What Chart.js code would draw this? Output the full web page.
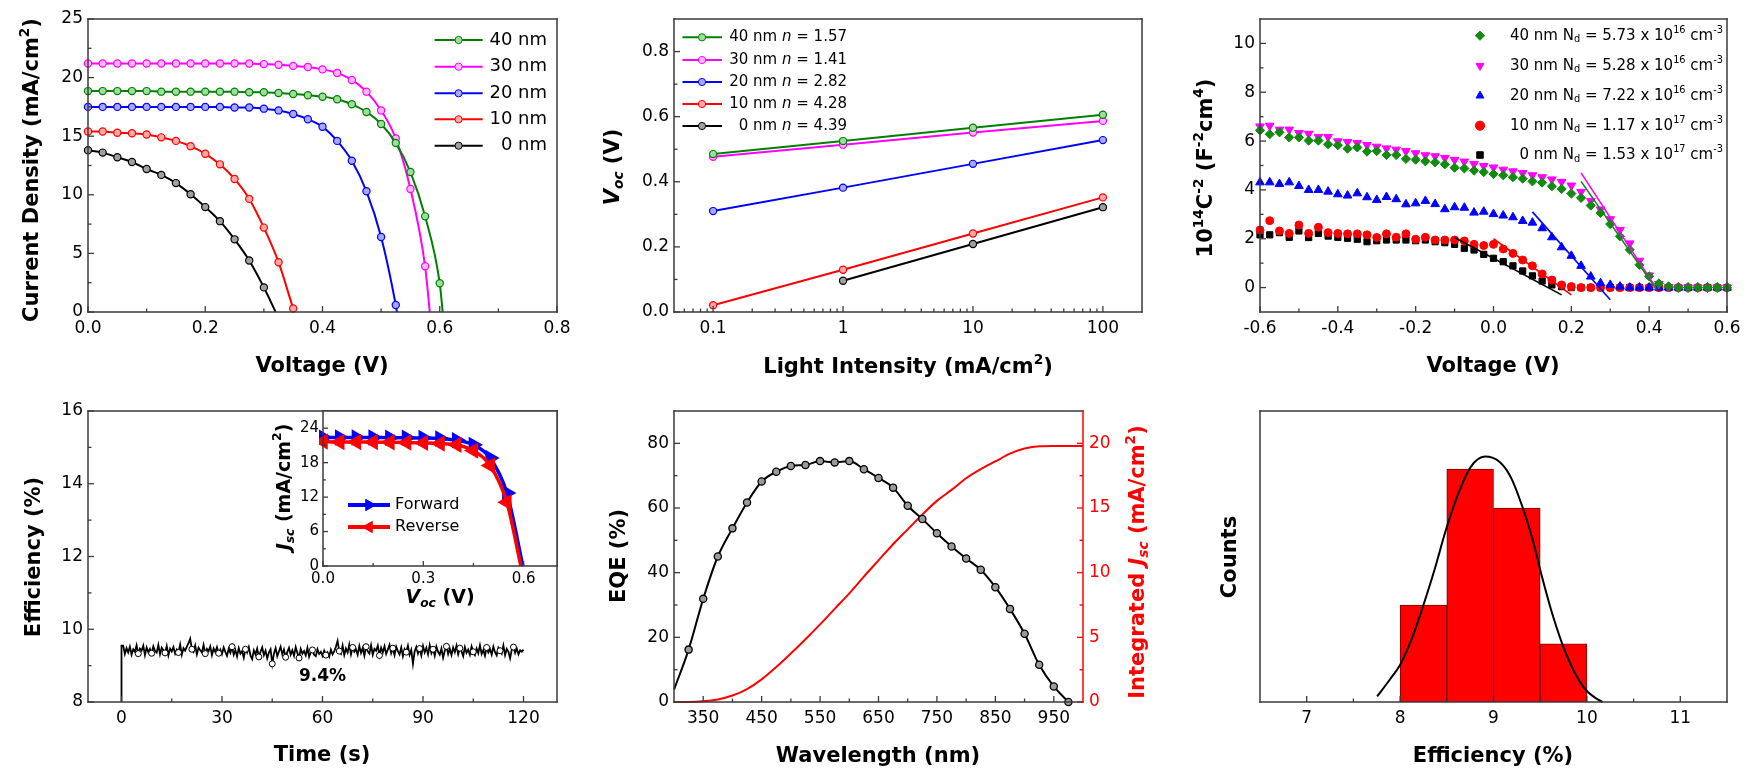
<!DOCTYPE html>
<html><head><meta charset="utf-8">
<script src="https://cdn.jsdelivr.net/npm/chart.js@4/dist/chart.umd.min.js"></script>
<style>
html,body{margin:0;padding:0;background:#fff;}
#wrap{position:relative;width:1757px;height:781px;overflow:hidden;background:#fff;}
canvas{position:absolute;left:0;top:0;}
</style></head>
<body><div id="wrap"></div>
<script>
// ================= DATA =================
// Panel 1: J-V curves
const jvV = [0,0.025,0.05,0.075,0.1,0.125,0.15,0.175,0.2,0.225,0.25,0.275,0.3,0.325,0.35,0.375,0.4,0.425,0.45,0.475,0.5,0.525,0.55,0.575,0.6];
const j40 = [18.85,18.85,18.85,18.85,18.85,18.8,18.8,18.8,18.8,18.8,18.8,18.75,18.75,18.68,18.6,18.5,18.37,18.15,17.72,17.07,16.04,14.42,11.94,8.16,2.45];
const j30 = [21.2,21.2,21.2,21.2,21.2,21.2,21.2,21.2,21.2,21.2,21.2,21.2,21.15,21.1,21.0,20.9,20.7,20.4,19.8,18.8,17.2,14.8,10.5,3.9];
const j20 = [17.5,17.5,17.5,17.5,17.5,17.5,17.5,17.5,17.5,17.5,17.45,17.45,17.35,17.2,16.9,16.45,15.8,14.6,12.9,10.3,6.4,0.6];
const j10 = [15.4,15.4,15.3,15.25,15.15,14.9,14.6,14.15,13.5,12.6,11.35,9.65,7.2,4.25,0.3];
const j0  = [13.8,13.6,13.2,12.8,12.2,11.7,11.0,10.05,8.95,7.75,6.2,4.4,2.1];
const jvVoc = [0.605, 0.583, 0.527, 0.352, 0.32];
const thickLabels = ['40 nm','30 nm','20 nm','10 nm','0 nm'];
const p1XTicks = [0,0.2,0.4,0.6,0.8], p1XLabels = ['0.0','0.2','0.4','0.6','0.8'];
const p1YTicks = [0,5,10,15,20,25], p1YLabels = ['0','5','10','15','20','25'];

// Panel 2: Voc vs light intensity
const intensity = [0.1, 1, 10, 100];
const voc40 = [0.485,0.525,0.566,0.606];
const voc30 = [0.477,0.514,0.551,0.587];
const voc20 = [0.31,0.382,0.455,0.528];
const voc10 = [0.021,0.13,0.241,0.352];
const voc0  = [null,0.096,0.209,0.322];
const idealityLabels = ['40 nm ~n~ = 1.57','30 nm ~n~ = 1.41','20 nm ~n~ = 2.82','10 nm ~n~ = 4.28','0 nm ~n~ = 4.39'];
const p2XTicks = [0.1,1,10,100], p2XLabels = ['0.1','1','10','100'];
const p2YTicks = [0,0.2,0.4,0.6,0.8], p2YLabels = ['0.0','0.2','0.4','0.6','0.8'];

// Panel 3: Mott-Schottky
const msV = []; for (let i = 0; i < 49; i++) msV.push(+(-0.6 + i * 0.025).toFixed(3));
const ms40 = [6.44,6.28,6.36,6.15,6.15,6.02,6.02,5.87,5.83,5.69,5.74,5.57,5.59,5.43,5.43,5.27,5.24,5.17,5.13,5.05,4.91,4.88,4.79,4.73,4.65,4.6,4.52,4.46,4.35,4.3,4.15,4.04,3.85,3.67,3.36,3.06,2.6,2.1,1.55,0.93,0.46,0.17,0.05,0,0,0,0,0,0];
const ms30 = [6.6,6.63,6.47,6.47,6.33,6.3,6.17,6.17,5.99,5.96,5.92,5.84,5.77,5.7,5.65,5.59,5.5,5.42,5.38,5.31,5.23,5.16,5.06,4.98,4.92,4.83,4.76,4.69,4.6,4.52,4.43,4.33,4.18,3.92,3.55,3.2,2.8,2.36,1.81,1.1,0.5,0.15,0.03,0,0,0,0,0,0];
const ms20 = [4.31,4.31,4.24,4.31,4.16,4.0,4.0,3.93,3.82,3.77,3.86,3.7,3.59,3.71,3.62,3.41,3.45,3.55,3.42,3.21,3.29,3.27,3.07,3.11,3.01,2.95,2.88,2.73,2.66,2.43,2.06,1.65,1.3,0.89,0.45,0.18,0.11,0.04,0,0,0,0,0,0,0,0,0,0,0];
const ms10 = [2.36,2.74,2.32,2.22,2.56,2.22,2.47,2.25,2.22,2.2,2.2,2.16,2.05,2.2,2.06,2.2,1.98,2.06,1.95,1.95,1.95,1.91,1.77,1.72,1.77,1.58,1.4,1.13,0.89,0.56,0.31,0.11,0.04,0,0,0,0,0,0,0,0,0,0,0,0,0,0,0,0];
const ms0  = [2.16,2.16,2.25,2.06,2.32,2.05,2.22,2.11,2.06,2.02,1.98,1.88,1.92,1.95,1.95,1.95,1.92,1.95,1.88,1.84,1.77,1.61,1.54,1.36,1.2,1.06,0.89,0.68,0.48,0.27,0.11,0.04,0,0,0,0,0,0,0,0,0,0,0,0,0,0,0,0,0];
const fit40 = [[0.225,4.35],[0.419,-0.08]];
const fit30 = [[0.225,4.7],[0.414,0.08]];
const fit20 = [[0.1,3.1],[0.3,-0.5]];
const fit10 = [[0.0,2.0],[0.2,-0.3]];
const fit0  = [[-0.1,2.05],[0.175,-0.3]];
const dopingLabels = ['40 nm N_{d} = 5.73 x 10^{16} cm^{-3}','30 nm N_{d} = 5.28 x 10^{16} cm^{-3}','20 nm N_{d} = 7.22 x 10^{16} cm^{-3}','10 nm N_{d} = 1.17 x 10^{17} cm^{-3}','0 nm N_{d} = 1.53 x 10^{17} cm^{-3}'];
const p3XTicks = [-0.6,-0.4,-0.2,0,0.2,0.4,0.6], p3XLabels = ['-0.6','-0.4','-0.2','0.0','0.2','0.4','0.6'];
const p3YTicks = [0,2,4,6,8,10], p3YLabels = ['0','2','4','6','8','10'];

// Panel 4: stabilised efficiency (t = 0.5 s steps after the start)
const effStart = [8.0, 9.55];
const effValues = [
9.55,9.32,9.48,9.36,9.52,9.30,9.45,9.38,9.56,9.33,9.47,9.41,9.55,9.29,9.50,9.37,9.46,9.34,9.53,9.40,
9.36,9.57,9.31,9.49,9.42,9.35,9.54,9.28,9.47,9.39,9.51,9.33,9.44,9.36,9.58,9.30,9.48,9.41,9.52,9.62,
9.74,9.45,9.38,9.55,9.31,9.49,9.42,9.36,9.57,9.33,9.46,9.40,9.53,9.29,9.47,9.37,9.51,9.34,9.44,9.32,
9.50,9.38,9.27,9.46,9.35,9.52,9.30,9.43,9.25,9.48,9.33,9.40,9.22,9.45,9.36,9.51,9.28,9.18,9.42,9.31,
9.47,9.24,9.38,9.50,9.29,9.41,9.20,9.36,9.45,9.05,9.33,9.48,9.26,9.39,9.52,9.31,9.44,9.23,9.37,9.49,
9.30,9.42,9.27,9.51,9.35,9.21,9.46,9.33,9.40,9.28,9.49,9.24,9.37,9.43,9.30,9.26,9.45,9.32,9.38,9.27,
9.41,9.29,9.36,9.25,9.44,9.31,9.39,9.52,9.68,9.40,9.33,9.55,9.29,9.47,9.36,9.58,9.31,9.50,9.38,9.45,
9.30,9.54,9.35,9.48,9.27,9.52,9.39,9.33,9.56,9.30,9.46,9.41,9.55,9.28,9.49,9.36,9.53,9.32,9.44,9.57,
9.34,9.48,9.29,9.52,9.40,9.31,9.50,9.26,9.45,9.37,9.55,9.30,9.43,9.05,9.39,9.51,9.33,9.47,9.28,9.54,
9.36,9.49,9.31,9.56,9.34,9.45,9.27,9.52,9.38,9.30,9.47,9.22,9.41,9.53,9.32,9.46,9.29,9.50,9.37,9.55,
9.31,9.48,9.39,9.26,9.51,9.35,9.44,9.30,9.53,9.38,9.29,9.47,9.34,9.56,9.32,9.43,9.27,9.50,9.36,9.45,
9.30,9.52,9.37,9.28,9.49,9.41,9.33,9.55,9.29,9.46,9.38,9.20,9.44,9.51,9.35,9.47,9.31,9.42,9.38,9.44];
const effNote = {text: '9.4%', t: 60, v: 8.7};
const p4XTicks = [0,30,60,90,120], p4XLabels = ['0','30','60','90','120'];
const p4YTicks = [8,10,12,14,16], p4YLabels = ['8','10','12','14','16'];
// Inset
const insetV = [0,0.05,0.1,0.15,0.2,0.25,0.3,0.35,0.4,0.45,0.5,0.55];
const jForward = [22.4,22.4,22.4,22.4,22.35,22.35,22.3,22.2,21.9,21.1,18.8,12.7];
const jReverse = [21.7,21.6,21.6,21.6,21.55,21.5,21.45,21.35,21.1,20.1,17.5,11.1];
const vocForward = 0.598, vocReverse = 0.592;
const scanLabels = ['Forward','Reverse'];
const inXTicks = [0,0.3,0.6], inXLabels = ['0.0','0.3','0.6'];
const inYTicks = [0,6,12,18,24], inYLabels = ['0','6','12','18','24'];

// Panel 5: EQE and integrated Jsc
const eqeNm = [300,325,350,375,400,425,450,475,500,525,550,575,600,625,650,675,700,725,750,775,800,825,850,875,900,925,950,975];
const eqe = [3.8,16.2,31.9,45.0,53.7,61.7,68.2,71.2,73.0,73.3,74.5,74.1,74.5,72.0,69.3,66.3,60.7,56.6,52.2,48.1,44.4,40.9,35.5,28.8,21.1,11.5,4.8,0.0];
const jscNm = [300,325,350,375,400,425,450,475,500,525,550,575,600,625,650,675,700,725,750,775,800,825,850,875,900,925,950,975,1000];
const jscInt = [0,0,0.05,0.2,0.5,1.0,1.75,2.7,3.75,4.85,6.0,7.2,8.4,9.7,10.95,12.2,13.35,14.5,15.55,16.4,17.3,18.0,18.6,19.2,19.6,19.78,19.8,19.8,19.8];
const p5XTicks = [350,450,550,650,750,850,950], p5XLabels = ['350','450','550','650','750','850','950'];
const p5YTicks = [0,20,40,60,80], p5YLabels = ['0','20','40','60','80'];
const p5Y2Ticks = [0,5,10,15,20], p5Y2Labels = ['0','5','10','15','20'];

// Panel 6: efficiency histogram + fit
const binCenters = [8.25, 8.75, 9.25, 9.75];
const binCounts = [5, 12, 10, 3];
const fitEffX = [7.754,7.891,8.001,8.127,8.244,8.362,8.5,8.637,8.755,8.908,9.069,9.186,9.324,9.422,9.52,9.618,9.736,9.854,9.972,10.09,10.168];
const fitEffY = [0.29,1.16,1.92,3.29,4.91,6.71,9.02,10.91,12.11,12.65,12.36,11.58,9.86,8.32,6.44,4.73,3.0,1.66,0.72,0.21,0.0];
const p6XTicks = [7,8,9,10,11], p6XLabels = ['7','8','9','10','11'];

// ================= STYLE HELPERS =================
const FONT = 'DejaVu Sans';
const FR = '#3a3a3a';
Chart.defaults.font.family = FONT;
Chart.defaults.color = '#000';
const COLORS = ['#008000', '#ff00ff', '#0000ff', '#ff0000', '#000000'];
const FILLS = ['#9fdc9f', '#ffb8ff', '#a8a8ff', '#ffa8a8', '#a0a0a0'];
const wrap = document.getElementById('wrap');
function mk() {
  const c = document.createElement('canvas');
  c.width = 1757; c.height = 781;
  c.style.width = '1757px'; c.style.height = '781px';
  wrap.appendChild(c);
  return c.getContext('2d');
}
function parseRich(str) {
  const segs = []; let i = 0, ital = false, buf = '';
  const push = (t, s) => { if (t) segs.push({t, s, i: ital}); };
  while (i < str.length) {
    const c = str[i];
    if (c === '~') { push(buf); buf = ''; ital = !ital; i++; }
    else if ((c === '^' || c === '_') && str[i + 1] === '{') {
      push(buf); buf = '';
      const j = str.indexOf('}', i);
      push(str.slice(i + 2, j), c === '^' ? 'sup' : 'sub');
      i = j + 1;
    } else { buf += c; i++; }
  }
  push(buf);
  return segs;
}
function drawRich(ctx, str, x, y, o) {
  const size = o.size || 21;
  const segs = parseRich(str);
  ctx.save();
  ctx.translate(x, y);
  if (o.rot) ctx.rotate(o.rot);
  ctx.textBaseline = 'middle';
  ctx.textAlign = 'left';
  ctx.fillStyle = o.color || '#000';
  const parts = segs.map(s => {
    const fs = s.s ? size * 0.65 : size;
    const font = (s.i ? 'italic ' : '') + (o.bold ? 'bold ' : '') + fs.toFixed(1) + 'px "' + FONT + '"';
    ctx.font = font;
    return {t: s.t, font, w: ctx.measureText(s.t).width, dy: s.s === 'sup' ? -size * 0.36 : s.s === 'sub' ? size * 0.28 : 0};
  });
  const total = parts.reduce((a, p) => a + p.w, 0);
  let cx = o.align === 'right' ? -total : o.align === 'left' ? 0 : -total / 2;
  parts.forEach(p => { ctx.font = p.font; ctx.fillText(p.t, cx, p.dy); cx += p.w; });
  ctx.restore();
}
function drawMarker(ctx, style, x, y, r, fill, stroke, rot) {
  ctx.save();
  ctx.translate(x, y);
  ctx.rotate((rot || 0) * Math.PI / 180);
  ctx.beginPath();
  if (style === 'circle') ctx.arc(0, 0, r, 0, Math.PI * 2);
  else if (style === 'triangle') { ctx.moveTo(0, -r); ctx.lineTo(r * 0.866, r * 0.5); ctx.lineTo(-r * 0.866, r * 0.5); ctx.closePath(); }
  else if (style === 'rect') { const h = r * 0.7071; ctx.rect(-h, -h, 2 * h, 2 * h); }
  else if (style === 'rectRot') { ctx.moveTo(0, -r); ctx.lineTo(r, 0); ctx.lineTo(0, r); ctx.lineTo(-r, 0); ctx.closePath(); }
  ctx.fillStyle = fill; ctx.fill();
  ctx.strokeStyle = stroke; ctx.lineWidth = 1; ctx.stroke();
  ctx.restore();
}
function makeDeco(cfg) {
  return {
    id: 'deco',
    beforeDatasetsDraw(chart) {
      if (!cfg.bg) return;
      const a = chart.chartArea, c = chart.ctx;
      c.save(); c.fillStyle = '#fff'; c.fillRect(a.left, a.top, a.right - a.left, a.bottom - a.top); c.restore();
    },
    afterDraw(chart) {
      const ctx = chart.ctx, a = chart.chartArea;
      ctx.save();
      ctx.lineCap = 'butt';
      (cfg.axes || []).forEach(ax => {
        const s = chart.scales[ax.id];
        ctx.strokeStyle = ax.color || FR; ctx.lineWidth = 1.3;
        const draw = (vals, len) => vals.forEach(v => {
          const p = s.getPixelForValue(v);
          ctx.beginPath();
          if (ax.side === 'bottom') { ctx.moveTo(p, a.bottom); ctx.lineTo(p, a.bottom - len); }
          else if (ax.side === 'left') { ctx.moveTo(a.left, p); ctx.lineTo(a.left + len, p); }
          else { ctx.moveTo(a.right, p); ctx.lineTo(a.right - len, p); }
          ctx.stroke();
        });
        draw(ax.major || [], ax.len || 6);
        draw(ax.minor || [], (ax.len || 6) * 0.58);
      });
      ctx.lineWidth = 1.5; ctx.lineCap = 'square';
      const ln = (x1, y1, x2, y2, col) => { ctx.strokeStyle = col; ctx.beginPath(); ctx.moveTo(x1, y1); ctx.lineTo(x2, y2); ctx.stroke(); };
      ln(a.left, a.top, a.right, a.top, FR);
      ln(a.left, a.bottom, a.right, a.bottom, FR);
      ln(a.left, a.top, a.left, a.bottom, FR);
      ln(a.right, a.top, a.right, a.bottom, cfg.rightColor || FR);
      ctx.lineCap = 'butt';
      (cfg.titles || []).forEach(t => drawRich(ctx, t.text, t.x, t.y, {size: t.size || 21, bold: true, color: t.color, rot: t.rot ? -Math.PI / 2 : 0}));
      if (cfg.legend) {
        const L = cfg.legend;
        L.items.forEach((it, k) => {
          const y = L.rows[k];
          if (L.line) {
            ctx.strokeStyle = it.color; ctx.lineWidth = L.lw || 2;
            ctx.beginPath(); ctx.moveTo(L.x1, y); ctx.lineTo(L.x2, y); ctx.stroke();
          }
          drawMarker(ctx, it.style, L.mx, y, L.r, it.fill, it.stroke || it.color, it.rot);
          drawRich(ctx, it.text, L.tx, y, {size: L.size, align: L.align, color: '#000'});
        });
      }
      (cfg.notes || []).forEach(n => {
        const x = chart.scales.x.getPixelForValue(n.t), y = chart.scales.y.getPixelForValue(n.v);
        drawRich(ctx, n.text, x, y, {size: n.size, bold: true});
      });
      ctx.restore();
    }
  };
}
function axis(o) {
  return {
    type: o.type || 'linear', min: o.min, max: o.max, position: o.pos, offset: false,
    grid: {display: false, drawTicks: false, offset: false},
    border: {display: false},
    afterBuildTicks: s => { s.ticks = o.tv.map(v => ({value: v})); },
    afterFit: s => { if (s.isHorizontal()) s.height = o.fit; else s.width = o.fit; },
    ticks: {display: o.show !== false, autoSkip: false, maxRotation: 0, minRotation: 0, padding: o.pad,
      color: o.color || '#000', font: {family: FONT, size: o.size || 17},
      callback: (v, i) => o.labels ? o.labels[i] : ''}
  };
}
function base(padding, scales) {
  return {
    responsive: false, animation: false, devicePixelRatio: 1, events: [],
    layout: {padding},
    scales,
    plugins: {legend: {display: false}, tooltip: {enabled: false}}
  };
}
const W = 1757, H = 781;
function pts(xs, ys) { const out = []; ys.forEach((y, i) => { if (y !== null) out.push({x: xs[i], y}); }); return out; }

// ================= PANEL 1 =================
(function () {
  const series = [j40, j30, j20, j10, j0];
  const ds = series.map((js, k) => ({
    data: pts(jvV, js).concat([{x: jvVoc[k], y: 0}]),
    showLine: true, borderColor: COLORS[k], borderWidth: 2,
    pointBackgroundColor: FILLS[k], pointBorderColor: COLORS[k], pointBorderWidth: 1.2,
    pointRadius: c => c.dataIndex === c.dataset.data.length - 1 ? 0 : 3.6,
    cubicInterpolationMode: 'monotone', clip: 6
  }));
  new Chart(mk(), {
    type: 'scatter', data: {datasets: ds},
    options: base({left: 88 - 56, top: 19, right: W - 557, bottom: H - 312 - 40}, {
      x: axis({min: 0, max: 0.8, tv: p1XTicks, labels: p1XLabels, pos: 'bottom', fit: 40, pad: 6}),
      y: axis({min: 0, max: 25, tv: p1YTicks, labels: p1YLabels, pos: 'left', fit: 56, pad: 5})
    }),
    plugins: [makeDeco({
      axes: [{id: 'x', side: 'bottom', major: p1XTicks, minor: [0.1, 0.3, 0.5, 0.7]},
             {id: 'y', side: 'left', major: p1YTicks, minor: [2.5, 7.5, 12.5, 17.5, 22.5]}],
      titles: [{text: 'Current Density (mA/cm^{2})', x: 33, y: 170, rot: true}, {text: 'Voltage (V)', x: 322, y: 367}],
      legend: {line: true, lw: 2, x1: 434.6, x2: 482.7, mx: 458.6, r: 3.6, tx: 547, align: 'right', size: 18,
        rows: [40, 66.7, 93.3, 119.3, 145.7],
        items: thickLabels.map((t, k) => ({text: t, color: COLORS[k], fill: FILLS[k], style: 'circle'}))}
    })]
  });
})();

// ================= PANEL 2 =================
(function () {
  const series = [voc40, voc30, voc20, voc10, voc0];
  const ds = series.map((v, k) => ({
    data: pts(intensity, v), showLine: true, borderColor: COLORS[k], borderWidth: 2,
    pointBackgroundColor: FILLS[k], pointBorderColor: COLORS[k], pointBorderWidth: 1.2, pointRadius: 3.6, clip: 6
  }));
  const minor = [];
  [0.01, 0.1, 1, 10].forEach(d => { for (let m = 2; m <= 9; m++) { const v = d * m; if (v > 0.05 && v < 200) minor.push(v); } });
  new Chart(mk(), {
    type: 'scatter', data: {datasets: ds},
    options: base({left: 674 - 56, top: 19, right: W - 1142, bottom: H - 312 - 40}, {
      x: axis({type: 'logarithmic', min: 0.05, max: 200, tv: p2XTicks, labels: p2XLabels, pos: 'bottom', fit: 40, pad: 6}),
      y: axis({min: 0, max: 0.9, tv: p2YTicks, labels: p2YLabels, pos: 'left', fit: 56, pad: 5})
    }),
    plugins: [makeDeco({
      axes: [{id: 'x', side: 'bottom', major: p2XTicks, minor},
             {id: 'y', side: 'left', major: p2YTicks, minor: [0.1, 0.3, 0.5, 0.7]}],
      titles: [{text: '~V_{oc}~ (V)', x: 614, y: 167, rot: true}, {text: 'Light Intensity (mA/cm^{2})', x: 908, y: 368}],
      legend: {line: true, lw: 2, x1: 682.5, x2: 722, mx: 702, r: 3.6, tx: 847, align: 'right', size: 15,
        rows: [37.3, 60, 82, 104, 126],
        items: idealityLabels.map((t, k) => ({text: t, color: COLORS[k], fill: FILLS[k], style: 'circle'}))}
    })]
  });
})();

// ================= PANEL 3 =================
(function () {
  const MSC = ['#128a12', '#ff00ff', '#0000ff', '#ff0000', '#000000'];
  const styles = [{s: 'rectRot', r: 4.6, rot: 0}, {s: 'triangle', r: 5, rot: 180}, {s: 'triangle', r: 5, rot: 0}, {s: 'circle', r: 4, rot: 0}, {s: 'rect', r: 4.4, rot: 0}];
  const fits = [fit40, fit30, fit20, fit10, fit0];
  const fitDs = fits.map((f, k) => ({
    data: f.map(p => ({x: p[0], y: p[1]})), showLine: true, borderColor: MSC[k], borderWidth: 1.6, pointRadius: 0, clip: 2
  }));
  const scat = [ms40, ms30, ms20, ms10, ms0].map((v, k) => ({
    data: pts(msV, v), showLine: false, pointStyle: styles[k].s, rotation: styles[k].rot, pointRadius: styles[k].r,
    pointBackgroundColor: MSC[k], pointBorderColor: MSC[k], pointBorderWidth: 1, clip: 5
  }));
  new Chart(mk(), {
    type: 'scatter', data: {datasets: fitDs.concat(scat)},
    options: base({left: 1260 - 56, top: 19, right: W - 1727, bottom: H - 312 - 40}, {
      x: axis({min: -0.6, max: 0.6, tv: p3XTicks, labels: p3XLabels, pos: 'bottom', fit: 40, pad: 6}),
      y: axis({min: -1, max: 11, tv: p3YTicks, labels: p3YLabels, pos: 'left', fit: 56, pad: 5})
    }),
    plugins: [makeDeco({
      axes: [{id: 'x', side: 'bottom', major: p3XTicks, minor: [-0.5, -0.3, -0.1, 0.1, 0.3, 0.5]},
             {id: 'y', side: 'left', major: p3YTicks, minor: [1, 3, 5, 7, 9]}],
      titles: [{text: '10^{14}C^{-2} (F^{-2}cm^{4})', x: 1207, y: 168, rot: true}, {text: 'Voltage (V)', x: 1493, y: 367}],
      legend: {line: false, mx: 1480, r: 4.6, tx: 1723, align: 'right', size: 15,
        rows: [35.7, 65.7, 95.7, 125.7, 155],
        items: dopingLabels.map((t, k) => ({text: t, color: MSC[k], fill: MSC[k], style: styles[k].s, rot: styles[k].rot}))}
    })]
  });
})();

// ================= PANEL 4 =================
(function () {
  const data = [{x: 0, y: effStart[0]}, {x: 0, y: effStart[1]}];
  effValues.forEach((v, i) => data.push({x: (i + 1) * 0.5, y: v}));
  new Chart(mk(), {
    type: 'scatter',
    data: {datasets: [{data, showLine: true, borderColor: '#000', borderWidth: 1.8,
      pointRadius: c => (c.dataIndex > 4 && c.dataIndex % 8 === 3) ? 3 : 0,
      pointBackgroundColor: '#fff', pointBorderColor: '#000', pointBorderWidth: 1, clip: 2}]},
    options: base({left: 88 - 56, top: 411, right: W - 557, bottom: H - 702 - 40}, {
      x: axis({min: -10, max: 130, tv: p4XTicks, labels: p4XLabels, pos: 'bottom', fit: 40, pad: 6}),
      y: axis({min: 8, max: 16, tv: p4YTicks, labels: p4YLabels, pos: 'left', fit: 56, pad: 5})
    }),
    plugins: [makeDeco({
      axes: [{id: 'x', side: 'bottom', major: p4XTicks, minor: [15, 45, 75, 105]},
             {id: 'y', side: 'left', major: p4YTicks, minor: [9, 11, 13, 15]}],
      titles: [{text: 'Efficiency (%)', x: 35, y: 557, rot: true}, {text: 'Time (s)', x: 322, y: 756}],
      notes: [{text: effNote.text, t: effNote.t, v: effNote.v, size: 17}]
    })]
  });
  // inset
  const fwd = pts(insetV, jForward).concat([{x: vocForward, y: 0}]);
  const rev = pts(insetV, jReverse).concat([{x: vocReverse, y: 0}]);
  const lastHidden = r => c => c.dataIndex === c.dataset.data.length - 1 ? 0 : r;
  new Chart(mk(), {
    type: 'scatter',
    data: {datasets: [
      {data: rev, showLine: true, borderColor: '#ff0000', borderWidth: 3.5, pointStyle: 'triangle', rotation: -90,
        pointRadius: lastHidden(6), pointBackgroundColor: '#ff0000', pointBorderColor: '#ff0000', cubicInterpolationMode: 'monotone', clip: 4},
      {data: fwd, showLine: true, borderColor: '#0000ff', borderWidth: 3.5, pointStyle: 'triangle', rotation: 90,
        pointRadius: lastHidden(6), pointBackgroundColor: '#0000ff', pointBorderColor: '#0000ff', cubicInterpolationMode: 'monotone', clip: 4}
    ]},
    options: base({left: 323 - 40, top: 411, right: W - 557, bottom: H - 566 - 30}, {
      x: axis({min: 0, max: 0.7, tv: inXTicks, labels: inXLabels, pos: 'bottom', fit: 30, pad: 4, size: 15}),
      y: axis({min: 0, max: 27, tv: inYTicks, labels: inYLabels, pos: 'left', fit: 40, pad: 4, size: 15})
    }),
    plugins: [makeDeco({
      bg: true,
      axes: [{id: 'x', side: 'bottom', major: inXTicks, minor: [0.15, 0.45], len: 5},
             {id: 'y', side: 'left', major: inYTicks, minor: [3, 9, 15, 21], len: 5}],
      titles: [{text: '~J_{sc}~ (mA/cm^{2})', x: 285, y: 487, rot: true, size: 19}, {text: '~V_{oc}~ (V)', x: 440, y: 598, size: 19}],
      legend: {line: true, lw: 4, x1: 348, x2: 390, mx: 369, r: 6.5, tx: 395, align: 'left', size: 16,
        rows: [505, 527],
        items: [{text: scanLabels[0], color: '#0000ff', fill: '#0000ff', style: 'triangle', rot: 90},
                {text: scanLabels[1], color: '#ff0000', fill: '#ff0000', style: 'triangle', rot: -90}]}
    })]
  });
})();

// ================= PANEL 5 =================
(function () {
  new Chart(mk(), {
    type: 'scatter',
    data: {datasets: [
      {data: pts(eqeNm, eqe), yAxisID: 'y', showLine: true, borderColor: '#000', borderWidth: 2,
        pointRadius: c => c.dataIndex === 0 ? 0 : 3.6, pointBackgroundColor: '#9a9a9a', pointBorderColor: '#000', pointBorderWidth: 1.3,
        cubicInterpolationMode: 'monotone', clip: 6},
      {data: pts(jscNm, jscInt), yAxisID: 'y2', showLine: true, borderColor: '#ff0000', borderWidth: 2, pointRadius: 0,
        cubicInterpolationMode: 'monotone', clip: 2}
    ]},
    options: base({left: 674 - 56, top: 411, right: W - 1083 - 40, bottom: H - 702 - 40}, {
      x: axis({min: 300, max: 1000, tv: p5XTicks, labels: p5XLabels, pos: 'bottom', fit: 40, pad: 6}),
      y: axis({min: 0, max: 90, tv: p5YTicks, labels: p5YLabels, pos: 'left', fit: 56, pad: 5}),
      y2: axis({min: 0, max: 22.5, tv: p5Y2Ticks, labels: p5Y2Labels, pos: 'right', fit: 40, pad: 6, color: '#ff0000'})
    }),
    plugins: [makeDeco({
      rightColor: '#ff0000',
      axes: [{id: 'x', side: 'bottom', major: p5XTicks, minor: [400, 500, 600, 700, 800, 900]},
             {id: 'y', side: 'left', major: p5YTicks, minor: [10, 30, 50, 70]},
             {id: 'y2', side: 'right', major: p5Y2Ticks, minor: [2.5, 7.5, 12.5, 17.5], color: '#ff0000'}],
      titles: [{text: 'EQE (%)', x: 620, y: 556, rot: true},
               {text: 'Integrated ~J_{sc}~ (mA/cm^{2})', x: 1139, y: 562, rot: true, color: '#ff0000'},
               {text: 'Wavelength (nm)', x: 878, y: 757}]
    })]
  });
})();

// ================= PANEL 6 =================
(function () {
  new Chart(mk(), {
    type: 'bar',
    data: {datasets: [
      {type: 'line', order: 0, data: pts(fitEffX, fitEffY), borderColor: '#000', borderWidth: 2, pointRadius: 0,
        cubicInterpolationMode: 'monotone', clip: 2},
      {type: 'bar', order: 1, data: pts(binCenters, binCounts), backgroundColor: '#ff0000', borderColor: '#7a0000',
        borderWidth: 1, barPercentage: 1, categoryPercentage: 1}
    ]},
    options: base({left: 1260 - 56, top: 411, right: W - 1727, bottom: H - 702 - 40}, {
      x: axis({min: 6.5, max: 11.5, tv: p6XTicks, labels: p6XLabels, pos: 'bottom', fit: 40, pad: 6}),
      y: axis({min: 0, max: 15, tv: [0, 15], pos: 'left', fit: 56, pad: 5, show: false})
    }),
    plugins: [makeDeco({
      axes: [{id: 'x', side: 'bottom', major: p6XTicks, minor: [7.5, 8.5, 9.5, 10.5]}],
      titles: [{text: 'Counts', x: 1231, y: 557, rot: true}, {text: 'Efficiency (%)', x: 1493, y: 757}]
    })]
  });
})();
</script>
</body></html>
